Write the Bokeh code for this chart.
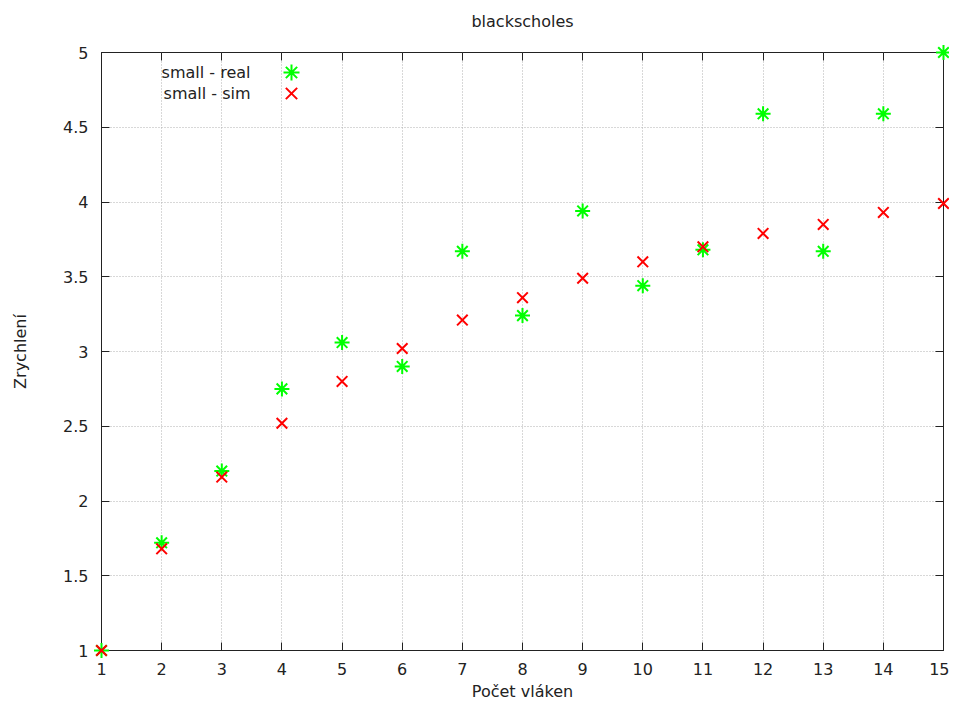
from bokeh.plotting import figure
from bokeh.models import (LinearAxis, FixedTicker, Range1d, Legend, LegendItem, ColumnDataSource,
                          Label, CustomJSTickFormatter)
from bokeh.embed import file_html
from bokeh.resources import INLINE

threads = [1, 2, 3, 4, 5, 6, 7, 8, 9, 10, 11, 12, 13, 14, 15]
real = [1.0, 1.72, 2.2, 2.75, 3.06, 2.9, 3.67, 3.24, 3.94, 3.44, 3.68, 4.59, 3.67, 4.59, 5.0]
sim = [1.0, 1.68, 2.16, 2.52, 2.8, 3.02, 3.21, 3.36, 3.49, 3.6, 3.7, 3.79, 3.85, 3.93, 3.99]
x_ticks = list(range(1, 16))
y_ticks = [1, 1.5, 2, 2.5, 3, 3.5, 4, 4.5, 5]
y_tick_labels = ["1", "1.5", "2", "2.5", "3", "3.5", "4", "4.5", "5"]
title = "blackscholes"
x_label = "Počet vláken"
y_label = "Zrychlení"
series_names = ["small - real", "small - sim"]

FONT = "DejaVu Sans"
FS = "16px"
INK = "#222222"
W, H = 949, 704
BL, BR, BT, BB = 101, 6, 52, 54
FW, FH = W - BL - BR, H - BT - BB

p = figure(width=W, height=H, output_backend="svg", toolbar_location=None,
           title_location=None,
           x_range=Range1d(1, 15), y_range=Range1d(1, 5),
           min_border_left=BL, min_border_right=BR, min_border_top=BT, min_border_bottom=BB,
           x_axis_label=x_label, y_axis_label=y_label)
p.background_fill_color = "white"
p.border_fill_color = "white"
p.outline_line_color = INK
p.outline_line_width = 1

p.xaxis.ticker = FixedTicker(ticks=x_ticks)
p.yaxis.ticker = FixedTicker(ticks=y_ticks)
p.yaxis.major_label_overrides = {t: s for t, s in zip(y_ticks, y_tick_labels)}
p.xaxis.major_label_overrides = {t: str(t) for t in x_ticks}

for ax in (p.xaxis[0], p.yaxis[0]):
    ax.major_tick_in = 8
    ax.major_tick_out = 0
    ax.minor_tick_line_color = None
    ax.axis_line_color = INK
    ax.major_tick_line_color = INK
    ax.major_label_text_font = FONT
    ax.major_label_text_font_size = FS
    ax.major_label_text_color = INK
    ax.axis_label_text_font = FONT
    ax.axis_label_text_font_size = FS
    ax.axis_label_text_font_style = "normal"
    ax.axis_label_text_color = INK
p.yaxis[0].major_label_standoff = 13
p.xaxis[0].major_label_standoff = 12
p.yaxis[0].axis_label_standoff = 30
p.xaxis[0].axis_label_standoff = 4

# mirror ticks on top (carrying the chart title) and right (no labels)
blank = CustomJSTickFormatter(code="return ''")
top_ax = LinearAxis(ticker=FixedTicker(ticks=x_ticks), formatter=blank,
                    major_tick_in=8, major_tick_out=0, minor_tick_line_color=None,
                    axis_line_color=None, major_tick_line_color=INK, major_label_standoff=0,
                    axis_label=title, axis_label_standoff=22, axis_label_text_font=FONT,
                    axis_label_text_font_size=FS, axis_label_text_font_style="normal",
                    axis_label_text_color=INK)
right_ax = LinearAxis(ticker=FixedTicker(ticks=y_ticks), formatter=blank,
                      major_tick_in=8, major_tick_out=0, minor_tick_line_color=None,
                      axis_line_color=None, major_tick_line_color=INK, major_label_standoff=0)
p.add_layout(top_ax, "above")
p.add_layout(right_ax, "right")

p.grid.grid_line_color = "#b0b0b0"
p.grid.grid_line_dash = "1 2"
p.grid.grid_line_width = 1
p.xgrid.ticker = FixedTicker(ticks=x_ticks)
p.ygrid.ticker = FixedTicker(ticks=y_ticks)

src = ColumnDataSource(dict(x=threads, real=real, sim=sim))
r1 = p.scatter("x", "real", source=src, marker="asterisk", size=15, line_color="#00ff00",
               line_width=2, level="overlay")
r2 = p.scatter("x", "sim", source=src, marker="x", size=15, line_color="#ff0000",
               line_width=2, level="overlay")

# gnuplot-style key: text right-aligned, sample to its right
for i, (name, r) in enumerate(zip(series_names, [r1, r2])):
    row_y = FH - 20 - 21 * i  # centre of the row, from frame bottom
    lg = Legend(items=[LegendItem(label="", renderers=[r])],
                location=(170, row_y - 20), padding=0, spacing=0, glyph_width=40,
                glyph_height=40, label_height=0, label_width=0, label_standoff=0, margin=0,
                background_fill_alpha=0, border_line_color=None)
    p.add_layout(lg, "center")
    p.add_layout(Label(x=149, y=row_y, x_units="screen", y_units="screen",
                       text=name, text_align="right", text_baseline="middle",
                       text_font=FONT, text_font_size=FS, text_color=INK))

open("out.html", "w").write(file_html(p, INLINE))
